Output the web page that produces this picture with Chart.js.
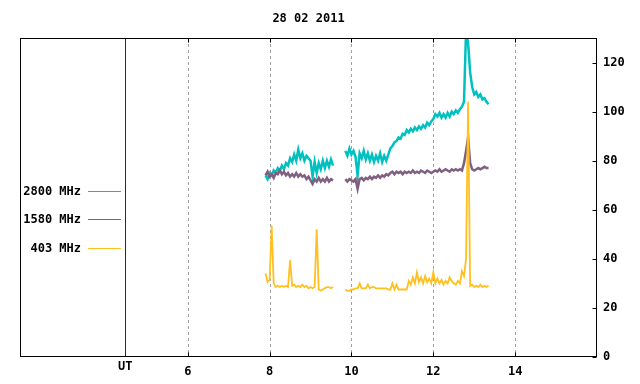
<!DOCTYPE html>
<html><head><meta charset="utf-8">
<script src="https://cdn.jsdelivr.net/npm/chart.js@4"></script>
<style>html,body{margin:0;padding:0;background:#fff}#wrap{width:640px;height:384px}</style>
</head><body><div id="wrap"><canvas id="c" width="640" height="384"></canvas></div>
<script>
const chartTitle = '28 02 2011';
const seriesNames = ['2800 MHz', '1580 MHz', '403 MHz'];
const seriesColors = ['rgb(0,192,192)', 'rgb(128,96,128)', 'rgb(255,192,32)'];
const xTickValues = [6, 8, 10, 12, 14];
const yTickValues = [0, 20, 40, 60, 80, 100, 120];
const utLabel = 'UT';
const utHour = 4.47;
const xRange = [1.9, 16];
const yRange = [0, 130];

// sample times in UT hours (gap between the two recording segments marked by 9.70)
const hours = [
  7.90,7.95,8.00,8.05,8.10,8.15,8.20,8.25,8.30,8.35,8.40,8.45,8.50,8.55,8.60,8.65,8.70,8.75,8.80,8.85,
  8.90,8.95,9.00,9.05,9.10,9.15,9.20,9.25,9.30,9.35,9.40,9.45,9.50,9.55,
  9.70,
  9.85,9.90,9.95,10.00,10.05,10.10,10.15,10.20,10.25,10.30,10.35,10.40,10.45,10.50,10.55,10.60,10.65,10.70,10.75,10.80,
  10.85,10.90,10.95,11.00,11.05,11.10,11.15,11.20,11.25,11.30,11.35,11.40,11.45,11.50,11.55,11.60,11.65,11.70,11.75,11.80,
  11.85,11.90,11.95,12.00,12.05,12.10,12.15,12.20,12.25,12.30,12.35,12.40,12.45,12.50,12.55,12.60,12.65,12.70,12.75,12.80,
  12.85,12.90,12.95,13.00,13.05,13.10,13.15,13.20,13.25,13.30,13.35
];

const flux2800 = [
  74,72.5,75,74,76,75,77,76,78,76.5,79,78,81,79.5,82.5,80,84.5,81,83,80,
  82,81,80,73.5,79.5,75,79,76.5,80,77,80,77.5,80.5,78,
  null,
  84,82,85,82.5,84,81.5,74,83,81,84,80.5,83,80,82.5,79.5,82,80,83,79.5,82,
  80,82.5,85,86,87.5,88,89.5,89,91,90.5,92.5,91.5,93,92,93.5,92.5,94,93,94.5,93.5,
  95.5,94.5,96,97,99,98,99.5,97.5,99,97.5,99.5,98,100,99,100.5,99.5,101,102,104,133,
  128,116,110,107,108,106,107,105,105.5,104,103
];

const flux1580 = [
  74,75.5,73.5,74.5,73,75,74.5,76,74.5,75.5,74,75,73.5,74.5,73.5,75,73.5,74.5,73.5,74,
  72.5,73.5,72,70.5,72.5,71.5,73,71.5,72.5,71.5,73,71.5,72.5,72,
  null,
  72.5,71.5,72.5,72,71.5,72.5,68.5,72.5,73,72,73,72.5,73.5,72.5,73.5,73,74,73,74,73.5,
  74.5,74,75,75.5,74.5,75.5,75,75.5,74.5,75.5,75,75.5,75,76,75,75.5,75,76,75.5,75,
  76,75.5,75,75.5,76,75.5,76.5,75.5,76,76.5,76,75.5,76.5,76,76.5,76,76.5,76,79,84,
  89.5,79,76.5,76,76.5,77,76.5,77,77.5,77,77
];

const flux403 = [
  34,30.5,31.5,53.5,30,28.5,29,28.5,29,28.5,29,28.5,39.5,29,29.5,28.5,29,28.5,29.5,28.5,
  29,28,28.5,28,28.5,52,27.5,27,27.5,28,28.5,28.5,28,28.5,
  null,
  27.5,27,27,27.5,27.5,28,28,30,28,28,28,29.5,28,28.5,28.5,28,28,28,28,28,
  28,27.5,27.5,30,27.5,29.5,27.5,27.5,27.5,27.5,27.5,31,29.5,32.5,30,34.5,30.5,32.5,30,33,
  30.5,32,30,34.5,30,32,30,31.5,29.5,31,30,32.5,31,30,29.5,31,30,35,33,40,
  104,29,29.5,28.5,29,28.5,29.5,28.5,29,28.5,29
];

const FONT = 'bold 12px "DejaVu Sans Mono", "Liberation Mono", monospace';
const toPoints = vals => hours.map((h, i) => ({ x: h, y: vals[i] }));

const decor = {
  id: 'decor',
  beforeDatasetsDraw(chart) {
    const { ctx, chartArea: a, scales: { x } } = chart;
    ctx.save();
    ctx.strokeStyle = '#a0a0a0';
    ctx.lineWidth = 1;
    ctx.setLineDash([3, 3]);
    xTickValues.forEach(v => {
      const px = Math.round(x.getPixelForValue(v)) + 0.5;
      ctx.beginPath(); ctx.moveTo(px, a.top); ctx.lineTo(px, a.bottom); ctx.stroke();
    });
    ctx.setLineDash([]);
    ctx.strokeStyle = '#8b0000';
    const ux = Math.round(x.getPixelForValue(utHour)) + 0.5;
    ctx.beginPath(); ctx.moveTo(ux, a.top); ctx.lineTo(ux, a.bottom); ctx.stroke();
    ctx.restore();
  },
  afterDatasetsDraw(chart) {
    const { ctx, chartArea: a, scales: { x, y } } = chart;
    ctx.save();
    ctx.strokeStyle = '#000';
    ctx.lineWidth = 1;
    const L = Math.round(a.left) + 0.5, R = Math.round(a.right) - 0.5;
    const T = Math.round(a.top) + 0.5, B = Math.round(a.bottom) - 0.5;
    ctx.strokeRect(L, T, R - L, B - T);
    ctx.beginPath();
    xTickValues.forEach(v => {
      const px = Math.round(x.getPixelForValue(v)) + 0.5;
      ctx.moveTo(px, B); ctx.lineTo(px, B - 4);
      ctx.moveTo(px, T); ctx.lineTo(px, T + 4);
    });
    yTickValues.forEach(v => {
      const py = Math.round(y.getPixelForValue(v)) + 0.5;
      ctx.moveTo(R, py); ctx.lineTo(R - 4, py);
    });
    ctx.stroke();
    // title
    ctx.fillStyle = '#000';
    ctx.font = FONT;
    ctx.textAlign = 'center';
    ctx.textBaseline = 'middle';
    ctx.fillText(chartTitle, (a.left + a.right) / 2, 19);
    // UT label
    ctx.fillText(utLabel, x.getPixelForValue(utHour), 367);
    // legend
    const legendY = [191, 219, 248];
    ctx.textAlign = 'right';
    seriesNames.forEach((n, i) => {
      ctx.fillStyle = '#000';
      ctx.fillText(n, 81, legendY[i] + 1);
      ctx.strokeStyle = seriesColors[i];
      ctx.beginPath();
      ctx.moveTo(88, legendY[i] + 0.5); ctx.lineTo(121, legendY[i] + 0.5);
      ctx.stroke();
    });
    ctx.restore();
  }
};

new Chart(document.getElementById('c'), {
  type: 'line',
  data: {
    datasets: [
      { label: seriesNames[0], data: toPoints(flux2800), borderColor: seriesColors[0], borderWidth: 2.5, order: 3 },
      { label: seriesNames[1], data: toPoints(flux1580), borderColor: seriesColors[1], borderWidth: 2.5, order: 2 },
      { label: seriesNames[2], data: toPoints(flux403), borderColor: seriesColors[2], borderWidth: 1.8, order: 1 }
    ]
  },
  options: {
    responsive: false,
    animation: false,
    devicePixelRatio: 1,
    layout: { padding: { left: 20, top: 38, right: 0, bottom: 0 } },
    elements: {
      line: { tension: 0, fill: false, borderJoinStyle: 'miter' },
      point: { radius: 0, hoverRadius: 0 }
    },
    spanGaps: false,
    plugins: { legend: { display: false }, title: { display: false }, tooltip: { enabled: false } },
    scales: {
      x: {
        type: 'linear', position: 'bottom', min: xRange[0], max: xRange[1],
        afterBuildTicks: s => { s.ticks = xTickValues.map(v => ({ value: v })); },
        afterFit: s => { s.height = 27; },
        grid: { display: false, drawTicks: false },
        border: { display: false },
        ticks: { color: '#000', font: { family: '"DejaVu Sans Mono", "Liberation Mono", monospace', size: 12, weight: 'bold' },
                 padding: 8, maxRotation: 0, autoSkip: false, callback: v => String(v) }
      },
      y: {
        type: 'linear', position: 'right', min: yRange[0], max: yRange[1],
        afterBuildTicks: s => { s.ticks = yTickValues.map(v => ({ value: v })); },
        afterFit: s => { s.width = 43; },
        grid: { display: false, drawTicks: false },
        border: { display: false },
        ticks: { color: '#000', font: { family: '"DejaVu Sans Mono", "Liberation Mono", monospace', size: 12, weight: 'bold' },
                 padding: 6, callback: v => String(v) }
      }
    }
  },
  plugins: [decor]
});
</script>
</body></html>
